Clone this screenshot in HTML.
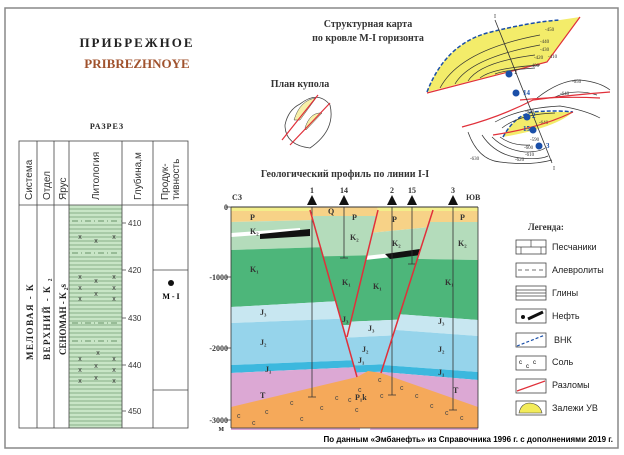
<!DOCTYPE html>
<html><head><meta charset="utf-8"><style>
body{margin:0;background:#fff}
svg{display:block}
text{font-family:"Liberation Serif",serif}
.s{font-family:"Liberation Sans",sans-serif}
</style></head><body>
<svg width="624" height="455" viewBox="0 0 624 455" xmlns="http://www.w3.org/2000/svg">
<defs>
<clipPath id="cL"><polygon points="231,207 310,207 359,377 231,377 231,430"/></clipPath>
<clipPath id="cC"><polygon points="310,207 378,207 347,340"/></clipPath>
<clipPath id="cM"><polygon points="378,207 433,207 381,375 357,380 347,340"/></clipPath>
<clipPath id="cR"><polygon points="433,207 478,207 478,430 370,430 381,375"/></clipPath>
</defs>
<rect x="5" y="8" width="613" height="440" fill="#fff" stroke="#888" stroke-width="1.5"/>
<text x="137" y="47" font-size="13" font-weight="bold" text-anchor="middle" letter-spacing="2" fill="#222">ПРИБРЕЖНОЕ</text>
<text x="137" y="68" font-size="13" font-weight="bold" text-anchor="middle" fill="#a0522d">PRIBREZHNOYE</text>
<text x="107" y="129" font-size="8" font-weight="bold" text-anchor="middle" letter-spacing="1" fill="#222">РАЗРЕЗ</text>
<!-- table -->
<rect x="69" y="205" width="53" height="223" fill="#c8e5c6"/>
<g stroke="#4a7a4a" stroke-width="0.6">
<path d="M69 209H122M69 213H122M69 217H122M69 221H122M69 225H122M69 229H122M69 233H122M69 237H122M69 241H122M69 245H122M69 249H122M69 253H122M69 257H122M69 261H122M69 265H122M69 269H122M69 273H122M69 277H122M69 281H122M69 285H122M69 289H122M69 293H122M69 297H122M69 301H122M69 305H122M69 309H122M69 313H122M69 317H122M69 321H122M69 325H122M69 329H122M69 333H122M69 337H122M69 341H122M69 345H122M69 349H122M69 353H122M69 357H122M69 361H122M69 365H122M69 369H122M69 373H122M69 377H122M69 381H122M69 385H122M69 389H122M69 393H122M69 397H122M69 401H122M69 405H122M69 409H122M69 413H122M69 417H122M69 421H122M69 425H122"/>
</g>
<g stroke="#c8e5c6" stroke-width="3"><path d="M70 221H121M70 253H121M70 323H121M70 341H121"/></g>
<g stroke="#4a7a4a" stroke-width="0.7" stroke-dasharray="6,3,1,3"><path d="M72 221H120M72 253H120M72 323H120M72 341H120"/></g>
<g font-size="7" fill="#333" text-anchor="middle" class="s">
<text x="80" y="239" class="s">x</text><text x="96" y="243" class="s">x</text><text x="114" y="239" class="s">x</text>
<text x="80" y="279" class="s">x</text><text x="96" y="283" class="s">x</text><text x="114" y="279" class="s">x</text>
<text x="80" y="290" class="s">x</text><text x="114" y="290" class="s">x</text><text x="96" y="296" class="s">x</text>
<text x="80" y="301" class="s">x</text><text x="114" y="301" class="s">x</text>
<text x="80" y="361" class="s">x</text><text x="98" y="355" class="s">x</text><text x="114" y="361" class="s">x</text>
<text x="80" y="372" class="s">x</text><text x="96" y="368" class="s">x</text><text x="114" y="372" class="s">x</text>
<text x="80" y="383" class="s">x</text><text x="96" y="380" class="s">x</text><text x="114" y="383" class="s">x</text>
</g>
<g fill="none" stroke="#444" stroke-width="0.8">
<rect x="19" y="141" width="169" height="287"/>
<path d="M19 205H188M37 141V428M54 141V428M69 141V428M122 141V428M153 141V428M153 270H188M153 390H188"/>
<path d="M122 223h4M122 270h4M122 318h4M122 365h4M122 411h4"/>
</g>
<g font-size="8" fill="#333" class="s">
<text x="128" y="226" class="s">410</text><text x="128" y="273" class="s">420</text><text x="128" y="321" class="s">430</text><text x="128" y="368" class="s">440</text><text x="128" y="414" class="s">450</text>
</g>
<g font-size="10" fill="#333" class="s">
<text transform="translate(32,200) rotate(-90)" class="s">Система</text>
<text transform="translate(50,200) rotate(-90)" class="s">Отдел</text>
<text transform="translate(66,200) rotate(-90)" class="s">Ярус</text>
<text transform="translate(99,200) rotate(-90)" class="s">Литология</text>
<text transform="translate(141,200) rotate(-90)" class="s">Глубина,м</text>
<text transform="translate(168,200) rotate(-90)" class="s">Продук-</text>
<text transform="translate(179,200) rotate(-90)" class="s">тивность</text>
</g>
<g font-size="9" font-weight="bold" fill="#222">
<text transform="translate(33,360) rotate(-90)" letter-spacing="1.5">МЕЛОВАЯ - К</text>
<text transform="translate(50,360) rotate(-90)" letter-spacing="1.5">ВЕРХНИЙ - К ₂</text>
<text transform="translate(66,355) rotate(-90)">СЕНОМАН - К ₂s</text>
</g>
<circle cx="171" cy="283" r="3" fill="#111"/>
<text x="171" y="299" font-size="8" font-weight="bold" text-anchor="middle">М - I</text>

<!-- profile -->
<text x="345" y="177" font-size="10" font-weight="bold" text-anchor="middle" fill="#333">Геологический профиль по линии I-I</text>
<g font-size="8" font-weight="bold" fill="#333">
<text x="232" y="200">СЗ</text><text x="466" y="200">ЮВ</text>
<text x="312" y="193" text-anchor="middle">1</text><text x="344" y="193" text-anchor="middle">14</text>
<text x="392" y="193" text-anchor="middle">2</text><text x="412" y="193" text-anchor="middle">15</text><text x="453" y="193" text-anchor="middle">3</text>
<text x="228" y="210" text-anchor="end">0</text><text x="228" y="280" text-anchor="end">-1000</text>
<text x="228" y="351" text-anchor="end">-2000</text><text x="228" y="423" text-anchor="end">-3000</text><text x="224" y="431" text-anchor="end">м</text>
</g>
<g clip-path="url(#cL)">
<polygon points="231,207 360,207 360,211 231,211" fill="#f3ee8a"/>
<polygon points="231,211 360,211 360,219 231,222" fill="#f7d287"/>
<polygon points="231,222 360,219 360,246 231,250" fill="#b4dcbb"/>
<polygon points="231,250 360,246 360,300 231,307" fill="#4db67a"/>
<polygon points="231,307 360,300 360,318 231,323" fill="#c8e7f1"/>
<polygon points="231,323 360,318 360,360 231,365" fill="#96d4eb"/>
<polygon points="231,365 360,360 360,367 231,373" fill="#3cb8de"/>
<polygon points="231,373 360,367 360,380 231,380" fill="#dca8d4"/>
<polygon points="231,233 300,228 300,232 231,237" fill="#fff"/>
<polygon points="260,234 310,229 310,236 260,239" fill="#111"/>
</g>
<g clip-path="url(#cC)">
<polygon points="300,207 380,207 380,216 300,216" fill="#f7d287"/>
<polygon points="300,216 380,216 380,257 300,257" fill="#b4dcbb"/>
<polygon points="300,257 380,255 380,325 300,325" fill="#4db67a"/>
<polygon points="300,325 380,325 380,345 300,345" fill="#c8e7f1"/>
</g>
<g clip-path="url(#cM)">
<polygon points="340,207 440,207 440,211 340,211" fill="#f3ee8a"/>
<polygon points="340,211 440,211 440,226 340,236" fill="#f7d287"/>
<polygon points="340,236 440,226 440,252 340,260" fill="#b4dcbb"/>
<polygon points="340,260 440,252 440,318 340,322" fill="#4db67a"/>
<polygon points="340,322 440,318 440,333 340,338" fill="#c8e7f1"/>
<polygon points="340,338 440,333 440,362 340,366" fill="#96d4eb"/>
<polygon points="340,366 440,362 440,370 340,373" fill="#3cb8de"/>
<polygon points="340,373 440,370 440,390 340,390" fill="#dca8d4"/>
<polygon points="365,256 420,250 420,254 365,260" fill="#fff"/>
<polygon points="385,254 420,249 420,255 390,259" fill="#111"/>
</g>
<g clip-path="url(#cR)">
<polygon points="370,207 478,207 478,211 370,211" fill="#f3ee8a"/>
<polygon points="370,211 478,211 478,222 370,222" fill="#f7d287"/>
<polygon points="370,222 478,222 478,260 370,258" fill="#b4dcbb"/>
<polygon points="370,258 478,260 478,320 370,312" fill="#4db67a"/>
<polygon points="370,312 478,320 478,336 370,328" fill="#c8e7f1"/>
<polygon points="370,328 478,336 478,372 370,364" fill="#96d4eb"/>
<polygon points="370,364 478,372 478,380 370,371" fill="#3cb8de"/>
<polygon points="370,371 478,380 478,430 370,430" fill="#dca8d4"/>
</g>
<polygon points="231,377 360,377 360,430 231,430" fill="#dca8d4"/>
<polygon points="231,407 357,377 368,371 381,373 478,407 478,428 231,428" fill="#f5a95a"/>
<g font-size="7" fill="#444" class="s">
<text x="237" y="418" class="s">c</text><text x="252" y="425" class="s">c</text><text x="265" y="414" class="s">c</text><text x="290" y="405" class="s">c</text><text x="300" y="421" class="s">c</text><text x="320" y="410" class="s">c</text><text x="335" y="400" class="s">c</text><text x="348" y="402" class="s">c</text><text x="358" y="392" class="s">c</text><text x="378" y="382" class="s">c</text><text x="400" y="390" class="s">c</text><text x="415" y="398" class="s">c</text><text x="430" y="408" class="s">c</text><text x="445" y="415" class="s">c</text><text x="460" y="420" class="s">c</text><text x="380" y="398" class="s">c</text><text x="355" y="412" class="s">c</text>
</g>
<g font-size="8" font-weight="bold" fill="#333">
<text x="250" y="220">P</text><text x="328" y="214">Q</text><text x="352" y="220">P</text><text x="392" y="222">P</text><text x="460" y="220">P</text>
<text x="250" y="234">K₂</text><text x="350" y="240">K₂</text><text x="392" y="246">K₂</text><text x="458" y="246">K₂</text>
<text x="250" y="272">K₁</text><text x="342" y="285">K₁</text><text x="373" y="289">K₁</text><text x="445" y="285">K₁</text>
<text x="260" y="315">J₃</text><text x="342" y="322">J₃</text><text x="368" y="331">J₃</text><text x="438" y="324">J₃</text>
<text x="260" y="345">J₂</text><text x="362" y="352">J₂</text><text x="438" y="352">J₂</text>
<text x="265" y="372">J₁</text><text x="358" y="363">J₁</text><text x="438" y="375">J₁</text>
<text x="260" y="398">T</text><text x="453" y="393">T</text><text x="355" y="400">P₁k</text>
</g>
<g stroke="#333" stroke-width="0.8" fill="none">
<path d="M312 207V397M308 397h8M344 207V258M340 258h8M392 207V395M388 395h8M412 207V264M408 264h8M453 207V410M449 410h8"/>
<path d="M231 207v221M226 207h5M226 277h5M226 348h5M226 420h5M231 428h247V207"/>
</g>
<g fill="#111"><polygon points="312,195 307,205 317,205"/><polygon points="344,195 339,205 349,205"/><polygon points="392,195 387,205 397,205"/><polygon points="412,195 407,205 417,205"/><polygon points="453,195 448,205 458,205"/></g>
<line x1="231" y1="207" x2="478" y2="207" stroke="#333"/>
<g stroke="#e0303a" stroke-width="1.5"><line x1="310" y1="210" x2="357" y2="377"/><line x1="378" y1="210" x2="347" y2="337"/><line x1="433" y1="210" x2="381" y2="373"/></g>
<text x="613" y="442" font-size="8" font-weight="bold" text-anchor="end" class="s">По данным «Эмбанефть» из Справочника 1996 г. с дополнениями 2019 г.</text>

<!-- legend -->
<text x="528" y="230" font-size="9" font-weight="bold" fill="#333">Легенда:</text>
<g stroke="#444" stroke-width="0.8" fill="#fff">
<rect x="516" y="240" width="30" height="14"/><rect x="516" y="263" width="30" height="14"/><rect x="516" y="286" width="30" height="14"/><rect x="516" y="309" width="30" height="14"/><rect x="516" y="333" width="30" height="14"/><rect x="516" y="356" width="30" height="14"/><rect x="516" y="379" width="30" height="14"/><rect x="516" y="401" width="30" height="14"/>
</g>
<g stroke="#444" stroke-width="0.7"><path d="M516 247h30M531 240v7M521 247v7M541 247v7M516 290h30M516 293h30M516 296h30"/></g>
<path d="M518 270h4M525 270h4M532 270h4M539 270h4" stroke="#444" stroke-width="0.7"/>
<circle cx="523" cy="317" r="2" fill="#111"/><line x1="528" y1="319" x2="543" y2="312" stroke="#111" stroke-width="3"/>
<line x1="517" y1="346" x2="545" y2="335" stroke="#1a4fa8" stroke-width="1.2" stroke-dasharray="3,2"/>
<g font-size="6" class="s"><text x="519" y="364" class="s">c</text><text x="526" y="368" class="s">c</text><text x="533" y="364" class="s">c</text></g>
<line x1="517" y1="391" x2="545" y2="381" stroke="#e0303a" stroke-width="1.2"/>
<path d="M519 413 Q521 403 530 403 Q540 404 542 413Z" fill="#f3ec5a" stroke="#444" stroke-width="0.6"/>
<g font-size="9" fill="#222" class="s">
<text x="552" y="250" class="s">Песчаники</text><text x="552" y="273" class="s">Алевролиты</text><text x="552" y="296" class="s">Глины</text><text x="552" y="319" class="s">Нефть</text><text x="554" y="343" class="s">ВНК</text><text x="552" y="365" class="s">Соль</text><text x="552" y="388" class="s">Разломы</text><text x="552" y="411" class="s">Залежи УВ</text>
</g>

<!-- top maps -->
<text x="368" y="27" font-size="10" font-weight="bold" text-anchor="middle" fill="#333">Структурная карта</text>
<text x="368" y="41" font-size="10" font-weight="bold" text-anchor="middle" fill="#333">по кровле М-I горизонта</text>
<text x="300" y="87" font-size="10" font-weight="bold" text-anchor="middle" fill="#333">План купола</text>
<g fill="none" stroke="#444" stroke-width="0.8">
<path d="M300 104 Q318 90 330 105 Q336 130 310 148 Q285 145 285 125 Q288 110 300 104Z"/>
</g>
<path d="M294 120 Q300 100 316 98 L300 120Z" fill="#f7f0a8" stroke="#444" stroke-width="0.5"/>
<path d="M305 128 Q310 112 322 113 L306 130Z" fill="#f7f0a8" stroke="#444" stroke-width="0.5"/>
<g stroke="#e0303a" stroke-width="1.2"><line x1="282" y1="140" x2="318" y2="95"/><line x1="290" y1="145" x2="330" y2="103"/></g>
<path d="M427 92 Q445 45 487 33 Q530 22 560 20 L580 17 L547 62 Z" fill="#f3ec6a" stroke="none"/>
<path d="M427 92 Q445 45 487 33 Q530 22 560 20" fill="none" stroke="#1a4fa8" stroke-width="1.5" stroke-dasharray="4,2"/>
<path d="M580 17 L547 62 L427 93" fill="none" stroke="#e0303a" stroke-width="1.2"/>
<g fill="none" stroke="#333" stroke-width="0.7">
<path d="M440 88 Q460 50 540 35"/><path d="M455 84 Q470 58 540 45"/><path d="M468 81 Q480 62 535 55"/><path d="M480 78 Q492 68 540 65"/><path d="M495 74 Q505 70 535 68"/>
</g>
<g font-size="5" fill="#333"><text x="545" y="31">-450</text><text x="540" y="43">-440</text><text x="540" y="51">-430</text><text x="534" y="59">-420</text><text x="548" y="58">-410</text><text x="530" y="67">-400</text></g>
<!-- lower structure -->
<path d="M503 137 Q515 115 533 112 L573 112 Q555 128 503 137Z" fill="#f3ec6a"/>
<path d="M503 137 Q515 115 533 112 Q555 110 573 112" fill="none" stroke="#1a4fa8" stroke-width="1.5" stroke-dasharray="4,2"/>
<g fill="none" stroke="#333" stroke-width="0.7">
<path d="M468 132 Q478 160 500 162 Q530 166 552 160"/>
<path d="M482 135 Q495 155 520 158 Q540 160 548 156"/>
<path d="M492 137 Q505 150 525 152 Q540 152 545 148"/>
<path d="M500 137 Q512 146 530 145"/>
<path d="M495 122 Q520 108 560 106 Q585 110 600 118"/>
<path d="M502 128 Q520 114 555 113"/>
<path d="M537 98 Q560 80 580 80 Q600 82 610 90"/><path d="M555 97 Q575 88 597 95"/>
</g>
<g font-size="5" fill="#333"><text x="572" y="83">-650</text><text x="560" y="95">-640</text><text x="525" y="113">-650</text><text x="539" y="124">-640</text><text x="530" y="141">-590</text><text x="524" y="149">-600</text><text x="525" y="156">-610</text><text x="515" y="161">-620</text><text x="470" y="160">-630</text></g>
<g stroke="#e0303a" stroke-width="1.2" fill="none"><path d="M462 127 Q500 117 533 100 Q570 95 610 92"/><path d="M493 135 Q540 128 573 112"/><path d="M520 100 Q560 96 600 98"/></g>
<line x1="495" y1="20" x2="552" y2="163" stroke="#333" stroke-width="0.8"/>
<g fill="#1a4fa8"><circle cx="509" cy="74" r="3.5"/><circle cx="516" cy="93" r="3.5"/><circle cx="527" cy="117" r="3.5"/><circle cx="533" cy="130" r="3.5"/><circle cx="539" cy="146" r="3.5"/></g>
<g font-size="7" font-weight="bold" fill="#1a4fa8"><text x="523" y="95">14</text><text x="532" y="118">2</text><text x="523" y="131">15</text><text x="546" y="148">3</text><text x="514" y="74" fill="#333">1</text></g>
<g font-size="6" fill="#333"><text x="494" y="18">I</text><text x="553" y="170">I</text></g>
</svg>
</body></html>
